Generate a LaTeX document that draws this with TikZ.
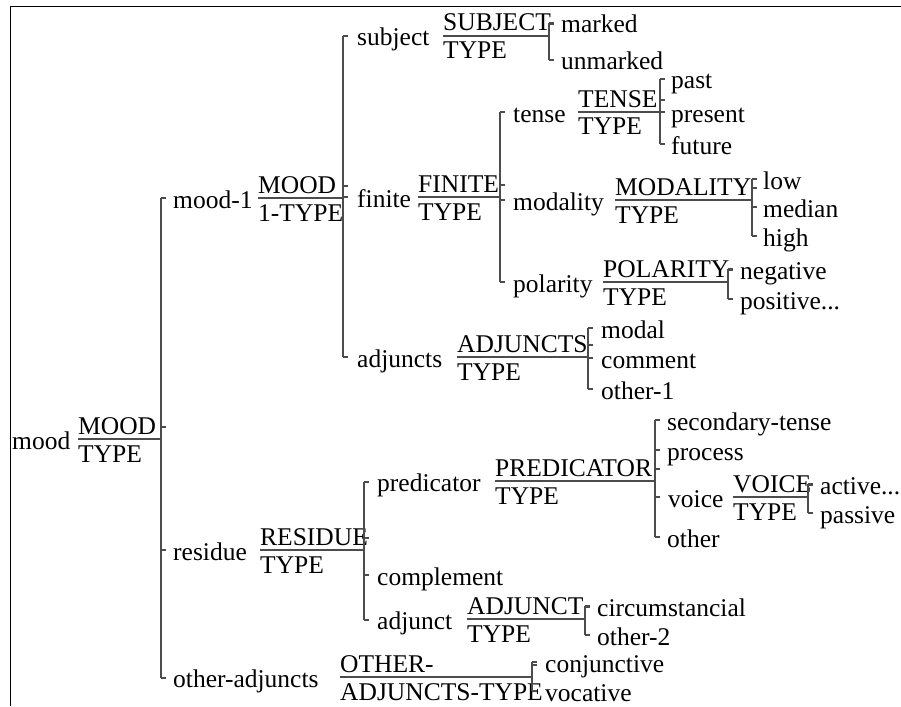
\documentclass[tikz,border=0pt]{standalone}
\usepackage{fontspec}
\setmainfont{Liberation Serif}
\tikzset{
  txt/.style={inner sep=0pt, anchor=base west, font=\fontsize{25.5}{30}\selectfont},
  ln/.style={draw=black!70, line width=1.1pt},
  framel/.style={draw=black, line width=1.2pt}
}
% leaf: name, text, x, y(tick)
\newcommand\TLeaf[4]{\node[txt] (#1) at (#3,#4+10) {#2};}
% fraction node: name, label, lx, y, fx, num, den, bx
\newcommand\TFrac[8]{%
  \node[txt] (#1) at (#3,#4+10) {#2};
  \node[txt] (#1-n) at (#5,#4-5) {#6};
  \node[txt] (#1-d) at (#5,#4+23) {#7};
  \coordinate (#1-b) at (#8,#4);
  \draw[ln] (#1-n.west |- #1-b) -- (#1-b);
  \draw[ln] (#8,#4-12) -- ++(5,0);
}
% bracket: bx, ytop, ybottom, list of child y
\newcommand\TBrack[4]{%
  \draw[ln] (#1,#2) -- (#1,#3);
  \foreach \cy in {#4} {\draw[ln] (#1,\cy) -- ++(5,0);}
}
\begin{document}
\begin{tikzpicture}[x=1pt,y=-1pt]
\useasboundingbox (0,0) rectangle (901,706);
\draw[framel] (10.5,706) -- (10.5,6.5) -- (901,6.5);

\TFrac{mood}{mood}{12}{439}{78}{MOOD}{TYPE}{161}
\TBrack{161}{198}{678}{198,550,678}

\TFrac{mood1}{mood-1}{173}{198}{258}{MOOD}{1-TYPE}{343}
\TBrack{343}{36}{357}{36,197,357}

\TFrac{subject}{subject}{357}{36}{443}{SUBJECT}{TYPE}{549}
\TBrack{549}{23}{60}{23,60}
\TLeaf{marked}{marked}{561}{23}
\TLeaf{unmarked}{unmarked}{561}{60}

\TFrac{finite}{finite}{357}{197}{418}{FINITE}{TYPE}{500}
\TBrack{500}{112}{282}{112,200,282}

\TFrac{tense}{tense}{513}{112}{578}{TENSE}{TYPE}{660}
\TBrack{660}{79}{144}{79,112,144}
\TLeaf{past}{past}{671}{79}
\TLeaf{present}{present}{671}{112}
\TLeaf{future}{future}{671}{144}

\TFrac{modality}{modality}{513}{200}{615}{MODALITY}{TYPE}{752}
\TBrack{752}{179}{236}{179,207,236}
\TLeaf{low}{low}{763}{179}
\TLeaf{median}{median}{763}{207}
\TLeaf{high}{high}{763}{236}

\TFrac{polarity}{polarity}{513}{282}{603}{POLARITY}{TYPE}{728}
\TBrack{728}{269}{299}{269,299}
\TLeaf{negative}{negative}{740}{269}
\TLeaf{positive}{positive...}{740}{299}

\TFrac{adjuncts}{adjuncts}{357}{357}{457}{ADJUNCTS}{TYPE}{588}
\TBrack{588}{328}{389}{328,358,389}
\TLeaf{modal}{modal}{601}{328}
\TLeaf{comment}{comment}{601}{358}
\TLeaf{other1}{other-1}{601}{389}

\TFrac{residue}{residue}{173}{550}{260}{RESIDUE}{TYPE}{364}
\TBrack{364}{482}{620}{482,575,620}

\TFrac{predicator}{predicator}{377}{481}{495}{PREDICATOR}{TYPE}{655}
\TBrack{655}{420}{537}{420,450,497,537}
\TLeaf{sectense}{secondary-tense}{667}{420}
\TLeaf{process}{process}{667}{450}
\TFrac{voice}{voice}{668}{497}{733}{VOICE}{TYPE}{808}
\TBrack{808}{484}{513}{484,513}
\TLeaf{active}{active...}{820}{484}
\TLeaf{passive}{passive}{820}{513}
\TLeaf{other}{other}{667}{537}

\TLeaf{complement}{complement}{377}{575}

\TFrac{adjunct}{adjunct}{377}{619}{467}{ADJUNCT}{TYPE}{585}
\TBrack{585}{606}{635}{606,635}
\TLeaf{circ}{circumstancial}{597}{606}
\TLeaf{other2}{other-2}{597}{635}

\TFrac{otheradj}{other-adjuncts}{173}{677}{340}{OTHER-}{ADJUNCTS-TYPE}{532}
\TBrack{532}{662}{691}{662,691}
\TLeaf{conj}{conjunctive}{545}{662}
\TLeaf{vocative}{vocative}{545}{691}
\end{tikzpicture}
\end{document}
